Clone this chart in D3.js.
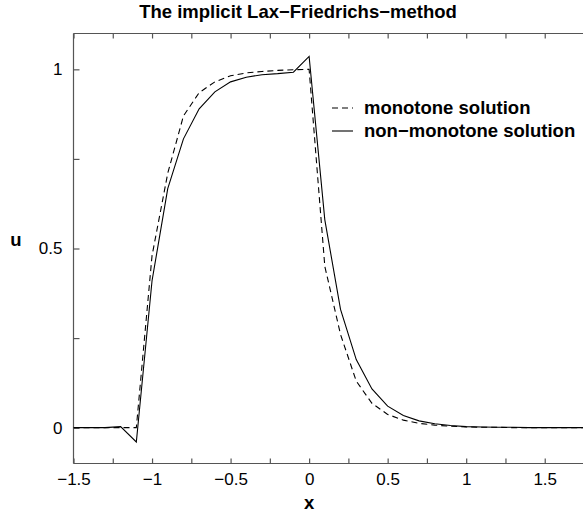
<!DOCTYPE html>
<html>
<head>
<meta charset="utf-8">
<script src="https://cdn.jsdelivr.net/npm/d3@7"></script>
<style>
  html, body { margin: 0; padding: 0; background: #fff; }
  svg { display: block; }
  text { font-family: "Liberation Sans", Arial, Helvetica, sans-serif; }
</style>
</head>
<body>
<script>
// ---- data ----
const xNodes = [-1.5, -1.4, -1.3, -1.2, -1.1, -1.0, -0.9, -0.8, -0.7, -0.6, -0.5, -0.4, -0.3, -0.2, -0.1, 0.0,
                0.1, 0.2, 0.3, 0.4, 0.5, 0.6, 0.7, 0.8, 0.9, 1.0, 1.1, 1.2, 1.3, 1.4, 1.5, 1.6, 1.7, 1.8];
const monotone = [0, 0, 0, 0, 0, 0.48, 0.71, 0.87, 0.935, 0.965, 0.982, 0.99, 0.994, 0.997, 0.999, 1.0,
                  0.45, 0.26, 0.13, 0.068, 0.037, 0.021, 0.012, 0.007, 0.004, 0.002, 0.001, 0.001, 0, 0, 0, 0, 0, 0];
const nonMonotone = [0, 0, 0, 0.003, -0.04, 0.41, 0.667, 0.806, 0.89, 0.937, 0.965, 0.978, 0.985, 0.988, 0.992, 1.036,
                     0.58, 0.33, 0.19, 0.108, 0.06, 0.034, 0.019, 0.011, 0.006, 0.003, 0.002, 0.001, 0.001, 0, 0, 0, 0, 0];
const xTicks = [-1.5, -1, -0.5, 0, 0.5, 1, 1.5];
const xMinorTicks = [-1.5, -1.25, -1, -0.75, -0.5, -0.25, 0, 0.25, 0.5, 0.75, 1, 1.25, 1.5];
const yTicks = [0, 0.5, 1];
const yMinorTicks = [0, 0.25, 0.5, 0.75, 1];
const seriesNames = ["monotone solution", "non\u2212monotone solution"];
const titleText = "The implicit Lax\u2212Friedrichs\u2212method";

// ---- layout ----
const W = 583, H = 518;
const mLeft = 73.5, mRight = 584, mTop = 33.5, mBottom = 463.5;

const svg = d3.select("body").append("svg").attr("width", W).attr("height", H);

const x = d3.scaleLinear().domain([-1.5, 1.75]).range([mLeft, mRight]);
const y = d3.scaleLinear().domain([-0.1, 1.1]).range([mBottom, mTop]);

const axisColor = "#555";
const fmt = d => d3.format("")(d).replace("-", "\u2212");

// clip
svg.append("defs").append("clipPath").attr("id", "clip")
  .append("rect").attr("x", mLeft).attr("y", mTop).attr("width", mRight - mLeft).attr("height", mBottom - mTop);

// frame lines (left, bottom, top)
svg.append("line").attr("x1", mLeft).attr("x2", mLeft).attr("y1", mTop).attr("y2", mBottom)
  .attr("stroke", axisColor).attr("stroke-width", 1.2);
svg.append("line").attr("x1", mLeft).attr("x2", W).attr("y1", mBottom).attr("y2", mBottom)
  .attr("stroke", axisColor).attr("stroke-width", 1.2);
svg.append("line").attr("x1", mLeft).attr("x2", W).attr("y1", mTop).attr("y2", mTop)
  .attr("stroke", axisColor).attr("stroke-width", 1.2);

// bottom axis (ticks inward)
const gB = svg.append("g").attr("transform", `translate(0,${mBottom})`)
  .call(d3.axisBottom(x).tickValues(xMinorTicks).tickSize(-5).tickFormat(""));
gB.select(".domain").remove();
gB.selectAll("line").attr("stroke", axisColor).attr("stroke-width", 1.2);

const gBl = svg.append("g").attr("transform", `translate(0,${mBottom})`)
  .call(d3.axisBottom(x).tickValues(xTicks).tickSize(0).tickPadding(9).tickFormat(fmt));
gBl.select(".domain").remove();
gBl.selectAll("text").attr("font-size", 17).attr("fill", "#000")
  .attr("font-family", "'Liberation Sans', Arial, sans-serif");

// top axis (ticks inward)
const gT = svg.append("g").attr("transform", `translate(0,${mTop})`)
  .call(d3.axisTop(x).tickValues(xMinorTicks).tickSize(-5).tickFormat(""));
gT.select(".domain").remove();
gT.selectAll("line").attr("stroke", axisColor).attr("stroke-width", 1.2);

// left axis
const gL = svg.append("g").attr("transform", `translate(${mLeft},0)`)
  .call(d3.axisLeft(y).tickValues(yMinorTicks).tickSize(-6).tickFormat(""));
gL.select(".domain").remove();
gL.selectAll("line").attr("stroke", axisColor).attr("stroke-width", 1.2);

const gLl = svg.append("g").attr("transform", `translate(${mLeft},0)`)
  .call(d3.axisLeft(y).tickValues(yTicks).tickSize(0).tickPadding(11).tickFormat(fmt));
gLl.select(".domain").remove();
gLl.selectAll("text").attr("font-size", 17).attr("fill", "#000")
  .attr("font-family", "'Liberation Sans', Arial, sans-serif");

// lines
const line = d3.line().x((d, i) => x(xNodes[i])).y(d => y(d));
const plot = svg.append("g").attr("clip-path", "url(#clip)");
plot.append("path").datum(monotone).attr("d", line)
  .attr("fill", "none").attr("stroke", "#000").attr("stroke-width", 1.1).attr("stroke-dasharray", "6,4");
plot.append("path").datum(nonMonotone).attr("d", line)
  .attr("fill", "none").attr("stroke", "#000").attr("stroke-width", 1.1);

// legend
const legend = svg.append("g");
const legY = [108, 131];
const dashes = ["6,4", null];
seriesNames.forEach((name, i) => {
  const l = legend.append("line").attr("x1", 332).attr("x2", 353).attr("y1", legY[i]).attr("y2", legY[i])
    .attr("stroke", "#000").attr("stroke-width", 1.1);
  if (dashes[i]) l.attr("stroke-dasharray", dashes[i]);
  legend.append("text").attr("x", 364).attr("y", legY[i]).attr("dy", "0.35em")
    .attr("font-size", 18.5).attr("font-weight", "bold").text(name);
});

// title & axis labels
svg.append("text").attr("x", 298).attr("y", 18).attr("text-anchor", "middle")
  .attr("font-size", 18.5).attr("font-weight", "bold").text(titleText);
svg.append("text").attr("x", x(0)).attr("y", 509).attr("text-anchor", "middle")
  .attr("font-size", 18.5).attr("font-weight", "bold").text("x");
svg.append("text").attr("x", 16).attr("y", 246).attr("text-anchor", "middle")
  .attr("font-size", 18.5).attr("font-weight", "bold").text("u");
</script>
</body>
</html>
